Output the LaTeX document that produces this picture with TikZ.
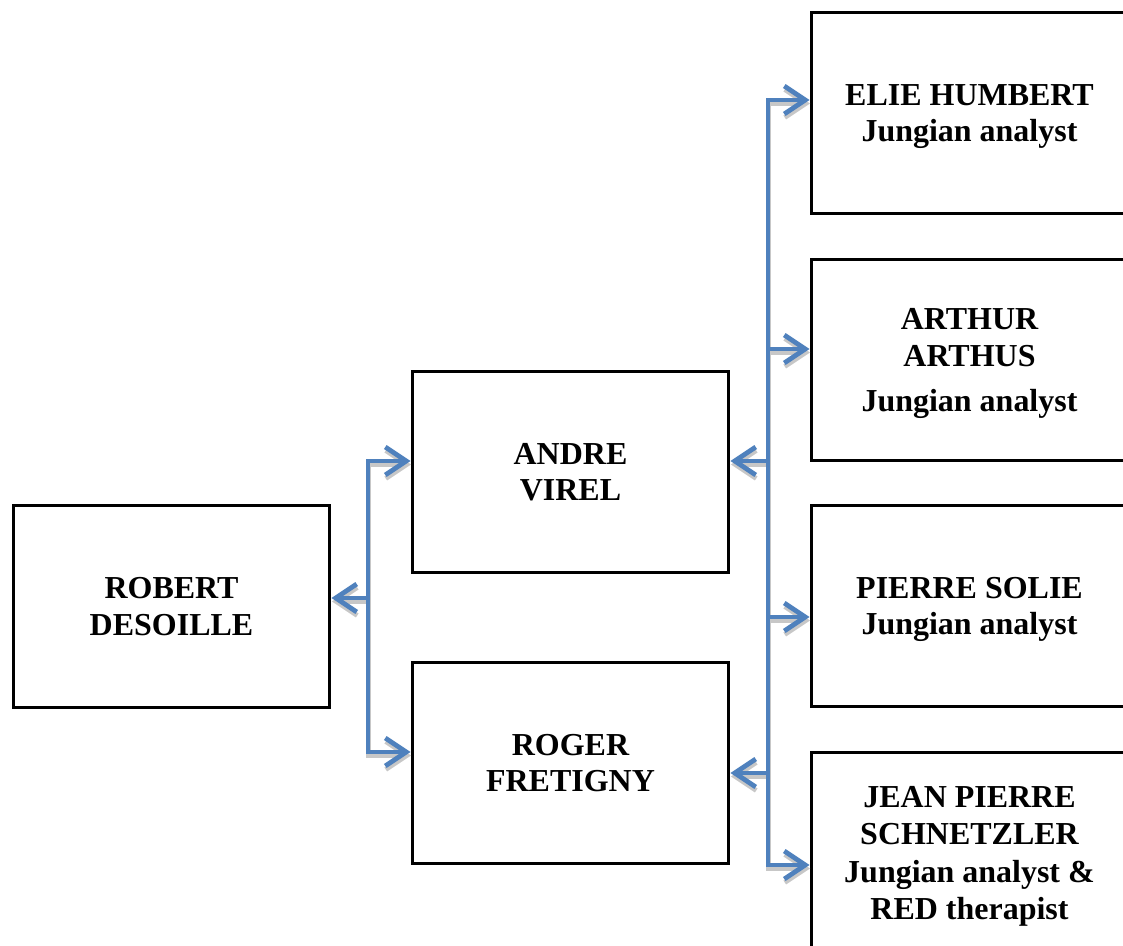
\documentclass[tikz,border=0pt]{standalone}
\usepackage{fontspec}
\setmainfont{Liberation Serif}
\usetikzlibrary{arrows.meta}
\definecolor{linkblue}{HTML}{4F81BD}
\begin{document}
\begin{tikzpicture}[x=0.02cm, y=-0.02cm,
    box/.style={draw, line width=1.7pt, minimum width=6.34cm, minimum height=4.04cm,
      align=center, text depth=0pt, font=\fontsize{18.2}{20.8}\selectfont\bfseries},
    link/.style={draw=linkblue, line width=2.7pt,
      -{Straight Barb[length=0.42cm,width=0.56cm,line width=2.7pt]}},
    shade/.style={link, draw=black!22, transform canvas={xshift=0.01cm,yshift=-0.07cm}}]
  \useasboundingbox (0,0) rectangle (1123,946);
  % people
  \node[box] (R) at (171.5,606.5) {ROBERT\\DESOILLE};
  \node[box] (A) at (570.5,472) {ANDRE\\VIREL};
  \node[box] (F) at (570.5,763) {ROGER\\FRETIGNY};
  \node[box] (E) at (969.5,113) {ELIE HUMBERT\\Jungian analyst};
  \node[box] (AA) at (969.5,360) {ARTHUR\\ARTHUS\\[5pt]Jungian analyst};
  \node[box] (P) at (969.5,606) {PIERRE SOLIE\\Jungian analyst};
  \node[box] (J) at (969.5,853) {JEAN PIERRE\\SCHNETZLER\\[1pt]Jungian analyst \&\\RED therapist};
  % trunks
  \coordinate (t1) at (368,598);
  \coordinate (t2) at (768,461);
  \coordinate (t3) at (768,773);
  \foreach \s in {shade,link} {
    \draw[\s] (t1) -- (R.east |- t1);
    \draw[\s] (t1) |- (A.west |- 0,461);
    \draw[\s] (t1) |- (F.west |- 0,752);
    \draw[\s,-] (t2) -- (t3);
    \draw[\s] (t2) -- (A.east |- t2);
    \draw[\s] (t3) -- (F.east |- t3);
    \draw[\s] (t2) |- (E.west |- 0,100);
    \draw[\s] (t2) |- (AA.west |- 0,349);
    \draw[\s] (t3) |- (P.west |- 0,617);
    \draw[\s] (t3) |- (J.west |- 0,865);
  }
\end{tikzpicture}
\end{document}
